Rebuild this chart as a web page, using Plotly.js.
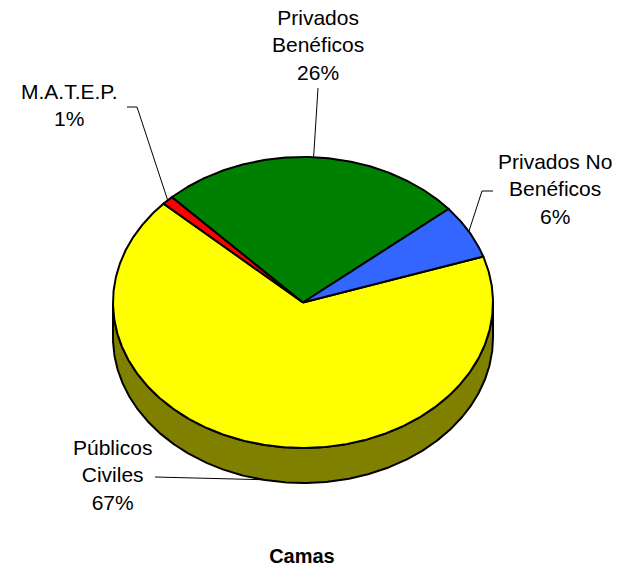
<!DOCTYPE html>
<html>
<head>
<meta charset="utf-8">
<script src="https://cdn.plot.ly/plotly-3.0.1.min.js"></script>
<style>html,body{margin:0;padding:0;background:#fff;}#chart{width:620px;height:573px;}</style>
</head>
<body>
<div id="chart"></div>
<script>
// ---- data ----
const categories = ['Públicos Civiles', 'M.A.T.E.P.', 'Privados Benéficos', 'Privados No Benéficos'];
const labelLines = [['Públicos', 'Civiles'], ['M.A.T.E.P.'], ['Privados', 'Benéficos'], ['Privados No', 'Benéficos']];
const percentages = [67, 1, 26, 6];
const chartTitle = 'Camas';

// ---- styles / layout ----
const topColors = ['#FFFF00', '#FF0000', '#008000', '#3366FF'];
const sideColors = ['#808000', '#800000', '#004000', '#1A3380'];
const CX = 303, CY = 302.5, RX = 190, RY = 145.5, DEPTH = 35;
const START_DEG = 18.4; // parametric angle where first slice starts, slices go clockwise
const labelPos = [[112, 475], [69, 105], [318, 45], [555, 189]];
const leaderStart = [[[155, 477]], [[127, 107], [137, 107]], [[318, 88]], [[493, 191], [482, 191]]];
const FONT = 'Liberation Sans, Arial, sans-serif';

function pt(deg, dy) {
  const r = deg * Math.PI / 180;
  return [CX + RX * Math.cos(r), CY - RY * Math.sin(r) + (dy || 0)];
}
function arc(a0, a1, dy) {
  const n = Math.max(2, Math.ceil(Math.abs(a1 - a0) / 0.5));
  const out = [];
  for (let i = 0; i <= n; i++) out.push(pt(a0 + (a1 - a0) * i / n, dy));
  return out;
}

const total = percentages.reduce((a, b) => a + b, 0);
const slices = [];
let a = START_DEG;
percentages.forEach((v, i) => {
  const span = v / total * 360;
  slices.push({i, a0: a, a1: a - span});
  a -= span;
});

const traces = [];
// side walls (front half: angles in [180,360] mod 360)
slices.forEach(s => {
  let lo = s.a1, hi = s.a0;
  for (let k = -1; k <= 1; k++) {
    const fLo = 180 + 360 * k, fHi = 360 + 360 * k;
    const l = Math.max(lo, fLo), h = Math.min(hi, fHi);
    if (h > l) {
      const topArc = arc(l, h, 0);
      const botArc = arc(h, l, DEPTH);
      const poly = topArc.concat(botArc);
      poly.push(poly[0]);
      traces.push({
        type: 'scatter', mode: 'lines', x: poly.map(p => p[0]), y: poly.map(p => p[1]),
        fill: 'toself', fillcolor: sideColors[s.i], line: {color: '#000', width: 2},
        hoverinfo: 'skip', showlegend: false
      });
    }
  }
});
// top faces
slices.forEach(s => {
  const poly = [[CX, CY]].concat(arc(s.a0, s.a1, 0));
  poly.push([CX, CY]);
  traces.push({
    type: 'scatter', mode: 'lines', x: poly.map(p => p[0]), y: poly.map(p => p[1]),
    fill: 'toself', fillcolor: topColors[s.i], line: {color: '#000', width: 2},
    hoverinfo: 'skip', showlegend: false, name: categories[s.i]
  });
});
// leader lines and labels
const annotations = [];
slices.forEach(s => {
  const mid = (s.a0 + s.a1) / 2;
  const front = Math.sin(mid * Math.PI / 180) < 0;
  const end = pt(mid, front ? DEPTH : 0);
  const path = leaderStart[s.i].concat([end]);
  traces.push({
    type: 'scatter', mode: 'lines', x: path.map(p => p[0]), y: path.map(p => p[1]),
    line: {color: '#000', width: 1}, hoverinfo: 'skip', showlegend: false
  });
  annotations.push({
    x: labelPos[s.i][0], y: labelPos[s.i][1], xref: 'x', yref: 'y',
    text: labelLines[s.i].concat([Math.round(percentages[s.i] / total * 100) + '%']).join('<br>'),
    showarrow: false, xanchor: 'center', yanchor: 'middle', align: 'center',
    font: {family: FONT, size: 21, color: '#000'}
  });
});

const layout = {
  width: 620, height: 573,
  margin: {l: 0, r: 0, t: 0, b: 0},
  paper_bgcolor: '#fff', plot_bgcolor: '#fff',
  xaxis: {range: [0, 620], visible: false, fixedrange: true},
  yaxis: {range: [573, 0], visible: false, fixedrange: true},
  showlegend: false,
  title: {text: chartTitle, x: 0.487, xanchor: 'center', y: 1 - 556 / 573, yref: 'container', yanchor: 'middle',
          font: {family: FONT, size: 20, color: '#000', weight: 'bold'}},
  annotations: annotations
};
Plotly.newPlot('chart', traces, layout, {displayModeBar: false, staticPlot: true});
</script>
</body>
</html>
